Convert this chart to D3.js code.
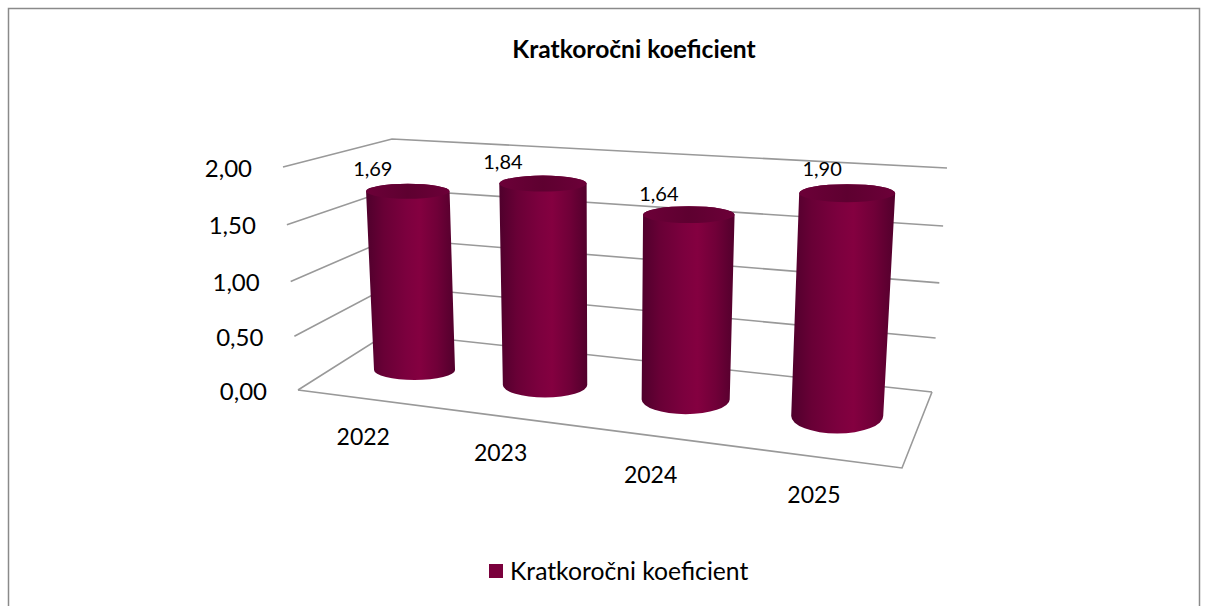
<!DOCTYPE html>
<html><head><meta charset="utf-8">
<script src="https://cdn.jsdelivr.net/npm/d3@7"></script>
<style>html,body{margin:0;padding:0;background:#fff}svg{display:block}text{font-family:Lato,"Open Sans",sans-serif;fill:#000}</style>
</head><body><svg id="c" width="1208" height="606"></svg>
<script>
const categories = ["2022","2023","2024","2025"];
const values = [1.69,1.84,1.64,1.90];
const valueLabels = ["1,69","1,84","1,64","1,90"];
const axisTicks = [0,0.5,1,1.5,2];
const axisTickLabels = ["0,00","0,50","1,00","1,50","2,00"];
const seriesName = "Kratkoročni koeficient";
const chartTitle = "Kratkoročni koeficient";

// ---- layout / projection (not data)
const floorQuad = [[298,390],[902,468],[932,392],[388,333]]; // FL, FR, BR, BL
const topQuad   = [[283,167],[914,216],[947,168],[392,139]];
const lerp=(a,b,t)=>a+(b-a)*t;
function bilinear(q,u,v){
  const [p0,p1,p2,p3]=q;
  const fx=lerp(p0[0],p1[0],u),fy=lerp(p0[1],p1[1],u),bx=lerp(p3[0],p2[0],u),by=lerp(p3[1],p2[1],u);
  return [lerp(fx,bx,v),lerp(fy,by,v)];
}
const hScale=d3.scaleLinear().domain(axisTicks).range([0,0.241,0.487,0.741,1]);
function project(u,v,val){
  const p=bilinear(floorQuad,u,v),q=bilinear(topQuad,u,v),t=hScale(val);
  return [lerp(p[0],q[0],t),lerp(p[1],q[1],t)];
}
// perspective spacing of the categories along the floor
const band=d3.scaleBand().domain(categories).range([0,1]);
const uWarp=d3.scaleLinear().domain([0.125,0.375,0.625,0.875]).range([0.1246,0.352,0.597,0.861]);
const uOf=c=>uWarp(band(c)+band.bandwidth()/2);
const uDom=[0.1246,0.861];
const barHeight=d3.scaleLinear().domain(uDom).range([213,235]);
const barLean=d3.scaleLinear().domain(uDom).range([-8,10.5]);
const rxTop=d3.scaleLinear().domain(uDom).range([41.75,48]);
const rxBot=d3.scaleLinear().domain(uDom).range([40.5,46]);
const ryTop=d3.scaleLinear().domain(uDom).range([7.5,9]);
const ryBot=d3.scaleLinear().domain(uDom).range([10,17.5]);
const baseShift=[0,-0.5,-3,-4.5];
const labelDx=[-35,-40,-30,-25], labelDy=[-15,-15,-14,-17];
const catDx=[-10,-10,-8,-4], catDy=[45,44,46,46];

const svg=d3.select("#c");
const defs=svg.append("defs");
const side=defs.append("linearGradient").attr("id","side").attr("x1",0).attr("x2",1).attr("y1",0).attr("y2",0);
[[0,"#4f002c"],[0.2,"#690036"],[0.45,"#7c003e"],[0.6,"#840040"],[0.8,"#700038"],[1,"#52002c"]]
  .forEach(([o,c])=>side.append("stop").attr("offset",o).attr("stop-color",c));
const cap=defs.append("linearGradient").attr("id","cap").attr("x1",0).attr("x2",1).attr("y1",0).attr("y2",0);
[[0,"#6c0038"],[0.5,"#5e0030"],[1,"#6c0038"]].forEach(([o,c])=>cap.append("stop").attr("offset",o).attr("stop-color",c));

const gridColor="#999";
svg.append("path").attr("d","M8.5,606V8.5H1199.5V606").attr("fill","none").attr("stroke","#8a8a8a").attr("stroke-width",1.5);
svg.append("text").attr("x",634).attr("y",58).attr("text-anchor","middle").attr("font-size",24.6).attr("font-weight",700).text(chartTitle);

const line=d3.line();
const grid=svg.append("g").attr("fill","none").attr("stroke",gridColor).attr("stroke-width",1.6);
axisTicks.forEach(t=>{
  grid.append("path").attr("d",line([project(0,0,t),project(0,1,t),project(1,1,t)]));
});
grid.append("path").attr("d",line([project(0,0,0),project(1,0,0),project(1,1,0)]));
axisTicks.forEach((t,i)=>{
  const p=project(0,0,t);
  svg.append("text").attr("x",p[0]-31).attr("y",p[1]+9.5).attr("text-anchor","end").attr("font-size",24).text(axisTickLabels[i]);
});

categories.forEach((c,i)=>{
  const u=uOf(c);
  const b0=project(u,0.5,0);
  const b=[b0[0],b0[1]+baseShift[i]];
  const h=hScale(values[i]);
  const t=[b[0]+barLean(u)*h,b[1]-barHeight(u)*h];
  const rt=rxTop(u),rb=rxBot(u),yt=ryTop(u),yb=ryBot(u);
  const g=svg.append("g");
  g.append("path").attr("fill","url(#side)")
   .attr("d",`M${t[0]-rt},${t[1]}L${b[0]-rb},${b[1]}A${rb},${yb} 0 0 0 ${b[0]+rb},${b[1]}L${t[0]+rt},${t[1]}A${rt},${yt} 0 0 0 ${t[0]-rt},${t[1]}Z`);
  g.append("ellipse").attr("cx",t[0]).attr("cy",t[1]).attr("rx",rt).attr("ry",yt).attr("fill","url(#cap)");
  svg.append("text").attr("x",t[0]+labelDx[i]).attr("y",t[1]+labelDy[i]).attr("text-anchor","middle").attr("font-size",20).text(valueLabels[i]);
  const f=project(u,0,0);
  svg.append("text").attr("x",f[0]+catDx[i]).attr("y",f[1]+catDy[i]).attr("text-anchor","middle").attr("font-size",23).text(c);
});

svg.append("rect").attr("x",489).attr("y",564).attr("width",14).attr("height",14).attr("fill","#7a003c");
svg.append("text").attr("x",510).attr("y",580).attr("font-size",24.7).text(seriesName);
</script></body></html>
